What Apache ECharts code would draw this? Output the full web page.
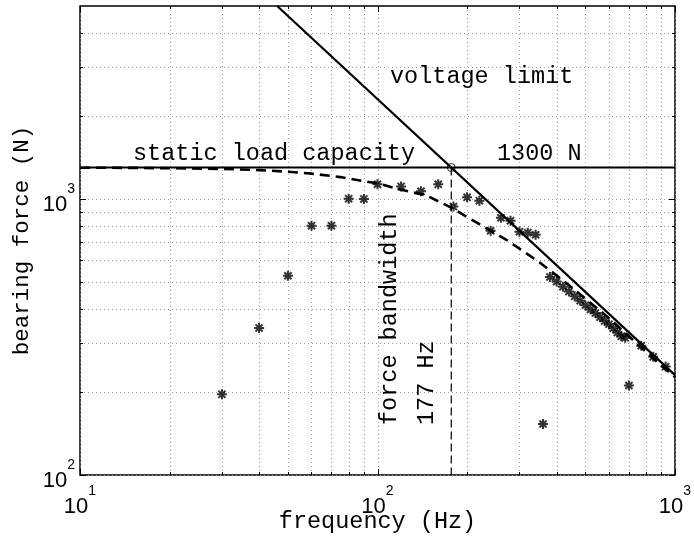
<!DOCTYPE html>
<html>
<head>
<meta charset="utf-8">
<script src="https://cdn.jsdelivr.net/npm/echarts@6/dist/echarts.min.js"></script>
<style>
html, body { margin: 0; padding: 0; background: #fff; }
#box { width: 694px; height: 540px; }
</style>
</head>
<body>
<div id="box"></div>
<script>
// measured bearing force (asterisks)
var measFreq = [30, 40, 50, 60, 70, 80, 90, 100, 120, 140, 160, 180, 200, 220, 240, 260, 280, 300, 320, 340,
	360, 380, 400, 420, 440, 460, 480, 500, 520, 540, 560, 580, 600, 620, 640, 660, 680, 700, 770, 845, 930];
var measForce = [196, 341, 527, 800, 800, 1002, 1000, 1130, 1110, 1066, 1130, 938, 1014, 986, 767, 855, 834, 761, 755, 742,
	153, 522, 502, 481, 462, 444, 428, 412, 398, 386, 373, 361, 352, 340, 328, 318, 314, 211, 294, 268, 247];

// static load capacity and voltage limit
var capacity = 1300;
var capFreq = [10, 1000];
var voltFreq = [46, 1000];
var voltForce = [5000, 230];

// force bandwidth curve (dashed)
var bwFreq = [10, 15, 20, 30, 40, 50, 60, 75, 90, 100, 120, 146, 177, 220, 272, 350, 430, 500, 600, 700, 850, 1000];
var bwForce = [1298, 1296, 1292, 1285, 1272, 1255, 1235, 1200, 1160, 1140, 1080, 1030, 930, 810, 710, 590, 497, 435, 370, 318, 263, 226];
var bandwidth = 177;

// grid / tick values
var xGridVals = [20, 30, 40, 50, 60, 70, 80, 90, 100, 200, 300, 400, 500, 600, 700, 800, 900];
var yGridVals = [200, 300, 400, 500, 600, 700, 800, 900, 1000, 2000, 3000, 4000];
var majorVals = [10, 100, 1000];

function pairs(a, b) {
	var out = [];
	for (var i = 0; i < a.length; i++) {
		out.push([a[i], b[i]]);
	}
	return out;
}

var star = 'path://M8 0H12V20H8Z M0 8H20V12H0Z ' +
	'M1.5 4.3L4.3 1.5L18.5 15.7L15.7 18.5Z M15.7 1.5L18.5 4.3L4.3 18.5L1.5 15.7Z';

var mono = 'Liberation Mono';

function gridRender(isX) {
	return function (params, api) {
		var cs = params.coordSys;
		var v = api.value(isX ? 0 : 1);
		var p = api.coord(isX ? [v, 1000] : [100, v]);
		var len = majorVals.indexOf(v) >= 0 ? 6 : 3;
		var dot = { stroke: '#999', lineWidth: 1, lineDash: [1, 3] };
		var tk = { stroke: '#000', lineWidth: 1 };
		if (isX) {
			var x = Math.round(p[0]) + 0.5;
			var t = cs.y, b = cs.y + cs.height;
			return {
				type: 'group',
				children: [
					{ type: 'line', shape: { x1: x, y1: t, x2: x, y2: b }, style: dot },
					{ type: 'line', shape: { x1: x, y1: b, x2: x, y2: b - len }, style: tk },
					{ type: 'line', shape: { x1: x, y1: t, x2: x, y2: t + len }, style: tk }
				]
			};
		}
		var y = Math.round(p[1]) + 0.5;
		var l = cs.x, r = cs.x + cs.width;
		return {
			type: 'group',
			children: [
				{ type: 'line', shape: { x1: l, y1: y, x2: r, y2: y }, style: dot },
				{ type: 'line', shape: { x1: l, y1: y, x2: l + len, y2: y }, style: tk },
				{ type: 'line', shape: { x1: r, y1: y, x2: r - len, y2: y }, style: tk }
			]
		};
	};
}

function powLabel(v) {
	var e = Math.log10(v);
	if (Math.abs(e - Math.round(e)) > 1e-6) return '';
	return '{b|10}{s|' + Math.round(e) + '}';
}

var labelRich = {
	b: { fontFamily: 'Liberation Sans', fontSize: 22, color: '#000', lineHeight: 34, verticalAlign: 'bottom' },
	s: { fontFamily: 'Liberation Sans', fontSize: 14, color: '#000', lineHeight: 8, verticalAlign: 'top' }
};

var myChart = echarts.init(document.getElementById('box'));
var option = {
	animation: false,
	backgroundColor: '#fff',
	grid: {
		left: 80, top: 6, right: 19, bottom: 65,
		outerBoundsMode: 'none', containLabel: false,
		show: true, borderColor: '#000', borderWidth: 1.5, backgroundColor: 'transparent'
	},
	xAxis: {
		type: 'log', logBase: 10, min: 10, max: 1000,
		name: 'frequency (Hz)', nameLocation: 'middle', nameGap: 35, nameMoveOverlap: false,
		nameTextStyle: { fontFamily: mono, fontSize: 23.5, color: '#000' },
		axisLine: { show: false }, axisTick: { show: false }, splitLine: { show: false },
		axisLabel: { margin: 9, formatter: powLabel, rich: labelRich, showMaxLabel: true, showMinLabel: true }
	},
	yAxis: {
		type: 'log', logBase: 10, min: 100, max: 5000,
		name: 'bearing force (N)', nameLocation: 'middle', nameGap: 46, nameMoveOverlap: false,
		nameTextStyle: { fontFamily: mono, fontSize: 22.5, color: '#000' },
		axisLine: { show: false }, axisTick: { show: false }, splitLine: { show: false },
		axisLabel: { margin: 5, formatter: powLabel, rich: labelRich }
	},
	series: [
		{
			type: 'custom', silent: true, clip: false, z: 1,
			renderItem: gridRender(true),
			data: xGridVals.concat(majorVals).map(function (v) { return [v, 1000]; })
		},
		{
			type: 'custom', silent: true, clip: false, z: 1,
			renderItem: gridRender(false),
			data: yGridVals.concat(majorVals).map(function (v) { return [100, v]; })
		},
		{
			name: 'static load capacity', type: 'line', showSymbol: false, z: 3,
			lineStyle: { color: '#000', width: 2.2 },
			data: pairs(capFreq, [capacity, capacity])
		},
		{
			name: 'voltage limit', type: 'line', showSymbol: false, z: 3, clip: true,
			lineStyle: { color: '#000', width: 2.2 },
			data: pairs(voltFreq, voltForce)
		},
		{
			name: 'bandwidth curve', type: 'line', showSymbol: false, z: 3,
			lineStyle: { color: '#000', width: 2.6, type: [10, 6] },
			data: pairs(bwFreq, bwForce)
		},
		{
			name: 'bandwidth marker', type: 'line', showSymbol: false, z: 3,
			lineStyle: { color: '#000', width: 1.2, type: [8, 4] },
			data: [[bandwidth, capacity], [bandwidth, 100]]
		},
		{
			name: 'crossing', type: 'scatter', z: 4,
			symbol: 'circle', symbolSize: 8,
			itemStyle: { color: 'rgba(0,0,0,0)', borderColor: '#000', borderWidth: 1 },
			data: [[bandwidth, capacity]]
		},
		{
			name: 'measured', type: 'scatter', z: 5,
			symbol: star, symbolSize: 10,
			itemStyle: { color: '#000' },
			data: pairs(measFreq, measForce)
		}
	],
	graphic: [
		{ type: 'text', x: 133, y: 154, z: 10, style: { text: 'static load capacity', font: '23.5px "Liberation Mono"', fill: '#000', align: 'left', verticalAlign: 'middle' } },
		{ type: 'text', x: 497, y: 154, z: 10, style: { text: '1300 N', font: '23.5px "Liberation Mono"', fill: '#000', align: 'left', verticalAlign: 'middle' } },
		{ type: 'text', x: 390, y: 77, z: 10, style: { text: 'voltage limit', font: '23.5px "Liberation Mono"', fill: '#000', align: 'left', verticalAlign: 'middle' } },
		{ type: 'text', x: 390, y: 425, rotation: Math.PI / 2, z: 10, style: { text: 'force bandwidth', font: '23.5px "Liberation Mono"', fill: '#000', align: 'left', verticalAlign: 'middle' } },
		{ type: 'text', x: 427, y: 425, rotation: Math.PI / 2, z: 10, style: { text: '177 Hz', font: '23.5px "Liberation Mono"', fill: '#000', align: 'left', verticalAlign: 'middle' } }
	]
};
myChart.setOption(option);
</script>
</body>
</html>
